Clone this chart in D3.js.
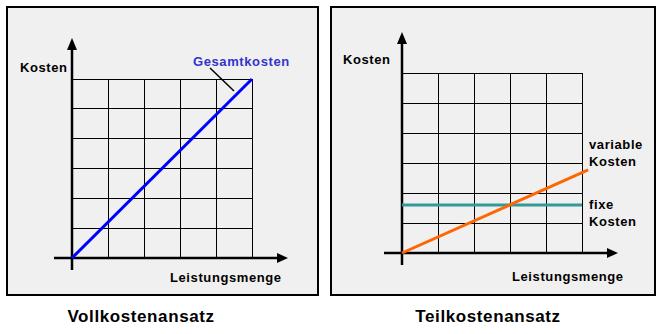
<!DOCTYPE html>
<html>
<head>
<meta charset="utf-8">
<script src="https://cdn.jsdelivr.net/npm/d3@7"></script>
<style>
  body { margin: 0; background: #fff; }
  svg text { font-family: Arial, "Liberation Sans", sans-serif; font-weight: bold; letter-spacing: 0.6px; }
</style>
</head>
<body>
<svg id="chart" width="663" height="334"></svg>
<script>
// data
const xTicks = [0, 1, 2, 3, 4, 5];
const yTicks = [0, 1, 2, 3, 4, 5, 6];
const gesamtkosten = [{ x: 0, y: 0 }, { x: 5, y: 6 }];
const fixeKosten = [{ x: 0, y: 1.6 }, { x: 5, y: 1.6 }];
const variableKosten = [{ x: 0, y: 0 }, { x: 5.17, y: 2.77 }];
const titles = ["Vollkostenansatz", "Teilkostenansatz"];

const svg = d3.select("#chart");

// panels
const panels = [
  { box: [7, 7, 311, 288], x0: 72, y0: 258, yTop: 79, titleX: 141 },
  { box: [331, 7, 324, 288], x0: 402, y0: 253, yTop: 73, titleX: 488 }
];

panels.forEach((p, i) => {
  svg.append("rect")
    .attr("x", p.box[0]).attr("y", p.box[1])
    .attr("width", p.box[2]).attr("height", p.box[3])
    .attr("fill", "#f0f0f0").attr("stroke", "#000").attr("stroke-width", 2);

  p.x = d3.scaleLinear().domain([0, 5]).range([p.x0, p.x0 + 180]);
  p.y = d3.scaleLinear().domain([0, 6]).range([p.y0, p.yTop]);

  const g = svg.append("g");
  // grid
  g.selectAll(".vg").data(xTicks.slice(1)).enter().append("line")
    .attr("x1", d => p.x(d)).attr("x2", d => p.x(d))
    .attr("y1", p.y(0)).attr("y2", p.y(6))
    .attr("stroke", "#000").attr("stroke-width", 1).attr("shape-rendering", "crispEdges");
  g.selectAll(".hg").data(yTicks.slice(1)).enter().append("line")
    .attr("x1", p.x(0)).attr("x2", p.x(5))
    .attr("y1", d => p.y(d)).attr("y2", d => p.y(d))
    .attr("stroke", "#000").attr("stroke-width", 1).attr("shape-rendering", "crispEdges");

  // axes with arrows
  const ax = p.x(0), ay = p.y(0);
  g.append("line").attr("x1", ax - 18).attr("x2", ax + 208)
    .attr("y1", ay).attr("y2", ay).attr("stroke", "#000").attr("stroke-width", 2.5);
  g.append("line").attr("x1", ax).attr("x2", ax)
    .attr("y1", ay + 12).attr("y2", p.y(6) - 30).attr("stroke", "#000").attr("stroke-width", 2.5);
  const tipX = ax + 216, tipY = p.y(6) - 41;
  g.append("path").attr("d", `M${tipX},${ay}L${tipX - 11},${ay - 5}L${tipX - 11},${ay + 5}Z`).attr("fill", "#000");
  g.append("path").attr("d", `M${ax},${tipY}L${ax - 5},${tipY + 12}L${ax + 5},${tipY + 12}Z`).attr("fill", "#000");

  svg.append("text").attr("x", p.titleX).attr("y", 322)
    .attr("text-anchor", "middle").attr("font-size", 17).text(titles[i]);
});

const line = p => d3.line().x(d => p.x(d.x)).y(d => p.y(d.y));
const L = panels[0], R = panels[1];

// left panel
svg.append("path").attr("d", line(L)(gesamtkosten))
  .attr("stroke", "#0000ff").attr("stroke-width", 3).attr("fill", "none");
svg.append("line").attr("x1", 210).attr("y1", 68).attr("x2", 234).attr("y2", 91)
  .attr("stroke", "#000").attr("stroke-width", 1.5);
svg.append("text").attr("x", 193).attr("y", 66).attr("font-size", 13).attr("fill", "#3333cc").text("Gesamtkosten");
svg.append("text").attr("x", 20).attr("y", 72).attr("font-size", 13).text("Kosten");
svg.append("text").attr("x", 170).attr("y", 282).attr("font-size", 13).text("Leistungsmenge");

// right panel
svg.append("path").attr("d", line(R)(fixeKosten))
  .attr("stroke", "#339999").attr("stroke-width", 3).attr("fill", "none");
svg.append("path").attr("d", line(R)(variableKosten))
  .attr("stroke", "#ff6600").attr("stroke-width", 3).attr("fill", "none");
svg.append("text").attr("x", 343).attr("y", 64).attr("font-size", 13).text("Kosten");
svg.append("text").attr("x", 512).attr("y", 281).attr("font-size", 13).text("Leistungsmenge");
svg.append("text").attr("x", 589).attr("y", 149).attr("font-size", 13).text("variable");
svg.append("text").attr("x", 589).attr("y", 166).attr("font-size", 13).text("Kosten");
svg.append("text").attr("x", 589).attr("y", 209).attr("font-size", 13).text("fixe");
svg.append("text").attr("x", 589).attr("y", 226).attr("font-size", 13).text("Kosten");
</script>
</body>
</html>
